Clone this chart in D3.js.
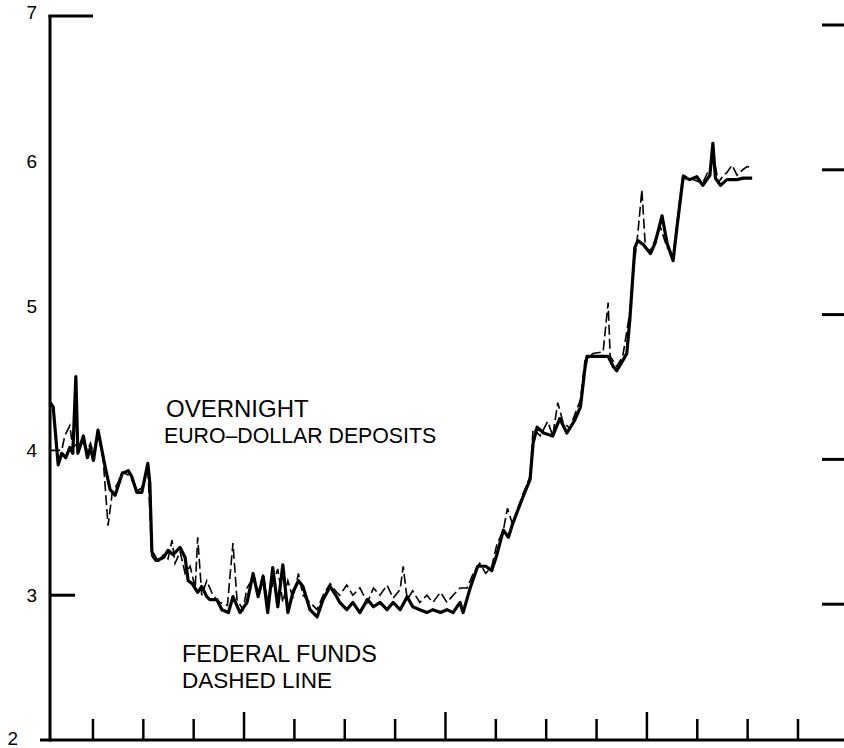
<!DOCTYPE html>
<html>
<head>
<meta charset="utf-8">
<script src="https://cdnjs.cloudflare.com/ajax/libs/d3/7.8.5/d3.min.js"></script>
<style>
  body { margin: 0; background: #fff; }
  svg { display: block; font-family: "Liberation Sans", Arial, Helvetica, sans-serif; }
</style>
</head>
<body>
<div id="chart"></div>
<script>
// time in months (one bottom tick per month), rates in percent
var euroMonth = [0.15,0.21,0.31,0.38,0.46,0.54,0.60,0.66,0.70,0.81,0.89,0.95,1.01,1.10,1.24,1.34,1.44,1.58,1.70,1.77,1.87,1.97,2.09,2.13,2.17,2.27,2.40,2.49,2.59,2.73,2.83,2.89,2.97,3.08,3.16,3.26,3.32,3.46,3.56,3.69,3.78,3.92,4.06,4.18,4.28,4.38,4.47,4.57,4.67,4.77,4.87,4.97,5.08,5.17,5.31,5.45,5.57,5.71,5.84,5.90,6.04,6.16,6.30,6.45,6.57,6.70,6.84,6.96,7.10,7.24,7.35,7.49,7.63,7.75,7.90,8.03,8.15,8.29,8.35,8.49,8.64,8.80,8.92,9.02,9.15,9.25,9.34,9.54,9.68,9.74,9.82,9.95,10.13,10.27,10.41,10.57,10.68,10.77,10.81,11.03,11.23,11.33,11.40,11.52,11.60,11.66,11.76,11.82,11.93,12.07,12.16,12.30,12.40,12.52,12.60,12.72,12.85,12.99,13.11,13.25,13.31,13.36,13.46,13.59,13.79,13.91,14.09];
var euroRate = [4.33,4.30,3.90,3.98,3.95,4.02,3.98,4.51,3.98,4.10,3.95,4.02,3.93,4.14,3.89,3.73,3.69,3.84,3.86,3.82,3.71,3.71,3.91,3.77,3.30,3.24,3.26,3.31,3.28,3.33,3.26,3.10,3.08,3.02,3.06,2.99,2.97,2.97,2.90,2.88,2.99,2.88,2.95,3.15,2.99,3.13,2.88,3.19,2.92,3.21,2.88,3.02,3.10,3.06,2.90,2.85,2.97,3.06,2.99,2.95,2.90,2.95,2.88,2.97,2.92,2.95,2.90,2.95,2.90,2.99,2.92,2.90,2.88,2.90,2.88,2.90,2.88,2.95,2.88,3.05,3.20,3.20,3.17,3.28,3.45,3.40,3.50,3.68,3.80,4.05,4.16,4.12,4.10,4.22,4.12,4.21,4.30,4.57,4.65,4.65,4.65,4.58,4.55,4.62,4.67,4.90,5.40,5.45,5.42,5.36,5.43,5.62,5.43,5.31,5.55,5.89,5.87,5.89,5.83,5.90,6.12,5.88,5.83,5.87,5.87,5.88,5.88];

var fedMonth = [0.15,0.38,0.44,0.54,0.60,0.70,0.81,0.89,0.95,1.01,1.10,1.20,1.30,1.38,1.50,1.58,1.70,1.77,1.87,1.97,2.09,2.17,2.27,2.40,2.49,2.57,2.63,2.73,2.83,2.93,3.03,3.08,3.16,3.26,3.38,3.52,3.67,3.78,3.86,3.98,4.06,4.18,4.28,4.38,4.47,4.57,4.67,4.77,4.87,4.97,5.08,5.17,5.31,5.45,5.57,5.71,5.84,5.90,6.04,6.16,6.30,6.45,6.57,6.70,6.84,6.96,7.10,7.16,7.24,7.35,7.49,7.63,7.75,7.90,8.03,8.15,8.29,8.43,8.55,8.68,8.80,8.92,9.02,9.15,9.23,9.34,9.44,9.54,9.68,9.74,9.88,10.03,10.13,10.23,10.33,10.47,10.57,10.68,10.77,10.93,11.13,11.23,11.27,11.40,11.52,11.66,11.72,11.82,11.90,11.97,12.07,12.16,12.26,12.40,12.52,12.66,12.72,12.85,12.99,13.11,13.25,13.31,13.42,13.52,13.59,13.69,13.79,13.91,13.99,14.09];
var fedRate = [4.00,4.00,4.10,4.17,4.02,4.05,4.05,4.00,4.05,3.98,4.12,3.95,3.48,3.70,3.78,3.85,3.83,3.80,3.72,3.74,3.88,3.27,3.22,3.28,3.25,3.38,3.22,3.30,3.15,3.20,3.05,3.40,3.00,3.10,3.00,2.95,2.93,3.36,2.97,2.90,3.05,3.12,3.00,3.15,2.95,3.08,3.18,2.95,3.10,2.98,3.15,3.00,2.95,2.90,3.00,3.08,3.02,3.00,3.07,3.00,3.05,2.95,3.05,3.00,3.07,2.98,3.04,3.20,2.97,3.03,2.95,3.00,2.95,3.02,2.95,3.00,3.05,3.05,3.15,3.22,3.15,3.20,3.35,3.45,3.60,3.48,3.60,3.70,3.82,4.15,4.10,4.20,4.10,4.33,4.20,4.15,4.25,4.35,4.62,4.67,4.68,5.02,4.65,4.58,4.65,4.95,5.20,5.50,5.80,5.40,5.38,5.45,5.55,5.40,5.35,5.75,5.90,5.88,5.86,5.85,5.95,6.05,5.85,5.90,5.92,5.97,5.90,5.94,5.96,5.95];

var yTicks = [2, 3, 4, 5, 6, 7];
var monthTicks = [1,2,3,4,5,6,7,8,9,10,11,12,13,14,15];
var quarterTicks = [4, 8, 12];

var width = 844, height = 748;
var svg = d3.select("#chart").append("svg")
  .attr("width", width)
  .attr("height", height);

var x = d3.scaleLinear().domain([0, 15]).range([42.6, 798]);
var y = d3.scaleLinear().domain([2, 7]).range([740, 16]);
// the right-hand ticks sit a little lower on the scan
var yRight = d3.scaleLinear().domain([2, 7]).range([749, 25]);

var axisX = 50;

// axes frame
svg.append("line")
  .attr("x1", axisX).attr("x2", axisX)
  .attr("y1", y(7) - 1).attr("y2", y(2) + 1.5)
  .attr("stroke", "#000").attr("stroke-width", 3);
svg.append("line")
  .attr("x1", axisX - 1.5).attr("x2", 93)
  .attr("y1", y(7)).attr("y2", y(7))
  .attr("stroke", "#000").attr("stroke-width", 3);
svg.append("line")
  .attr("x1", 40).attr("x2", width)
  .attr("y1", y(2)).attr("y2", y(2))
  .attr("stroke", "#000").attr("stroke-width", 3);
svg.append("line")
  .attr("x1", axisX).attr("x2", 75)
  .attr("y1", y(3)).attr("y2", y(3))
  .attr("stroke", "#000").attr("stroke-width", 3);

// bottom month ticks
svg.selectAll(".mtick")
  .data(monthTicks)
  .enter().append("line")
  .attr("class", "mtick")
  .attr("x1", function(d) { return x(d); })
  .attr("x2", function(d) { return x(d); })
  .attr("y1", y(2))
  .attr("y2", function(d) { return quarterTicks.indexOf(d) >= 0 ? y(2) - 28 : y(2) - 21; })
  .attr("stroke", "#000").attr("stroke-width", 2.5);

// right side ticks
svg.selectAll(".rtick")
  .data(yTicks.filter(function(d) { return d > 2; }))
  .enter().append("line")
  .attr("class", "rtick")
  .attr("x1", 822).attr("x2", width)
  .attr("y1", function(d) { return yRight(d); })
  .attr("y2", function(d) { return yRight(d); })
  .attr("stroke", "#000").attr("stroke-width", 3);

// y labels
svg.selectAll(".ylab")
  .data(yTicks)
  .enter().append("text")
  .attr("class", "ylab")
  .attr("x", function(d) { return d == 2 ? 18 : 37; })
  .attr("y", function(d) {
    if (d == 7) return y(d) + 3;
    if (d == 2) return y(d) + 5;
    return y(d) + 7;
  })
  .attr("text-anchor", "end")
  .attr("font-size", "19px")
  .attr("fill", "#000")
  .text(function(d) { return d; });

var line = d3.line()
  .x(function(d) { return x(d[0]); })
  .y(function(d) { return y(d[1]); });

var euro = euroMonth.map(function(m, i) { return [m, euroRate[i]]; });
var fed = fedMonth.map(function(m, i) { return [m, fedRate[i]]; });

svg.append("path")
  .datum(fed)
  .attr("d", line)
  .attr("fill", "none")
  .attr("stroke", "#000")
  .attr("stroke-width", 1.6)
  .attr("stroke-dasharray", "10,4");

svg.append("path")
  .datum(euro)
  .attr("d", line)
  .attr("fill", "none")
  .attr("stroke", "#000")
  .attr("stroke-width", 3.2)
  .attr("stroke-linejoin", "round");

// labels
function label(txt, lx, ly, size) {
  svg.append("text")
    .attr("x", lx).attr("y", ly)
    .attr("font-size", size)
    .attr("fill", "#000")
    .text(txt);
}
label("OVERNIGHT", 166, 417, "24px");
label("EURO\u2013DOLLAR DEPOSITS", 164, 443, "21.3px");
label("FEDERAL FUNDS", 182, 662, "23.5px");
label("DASHED LINE", 182, 688, "22.5px");
</script>
</body>
</html>
